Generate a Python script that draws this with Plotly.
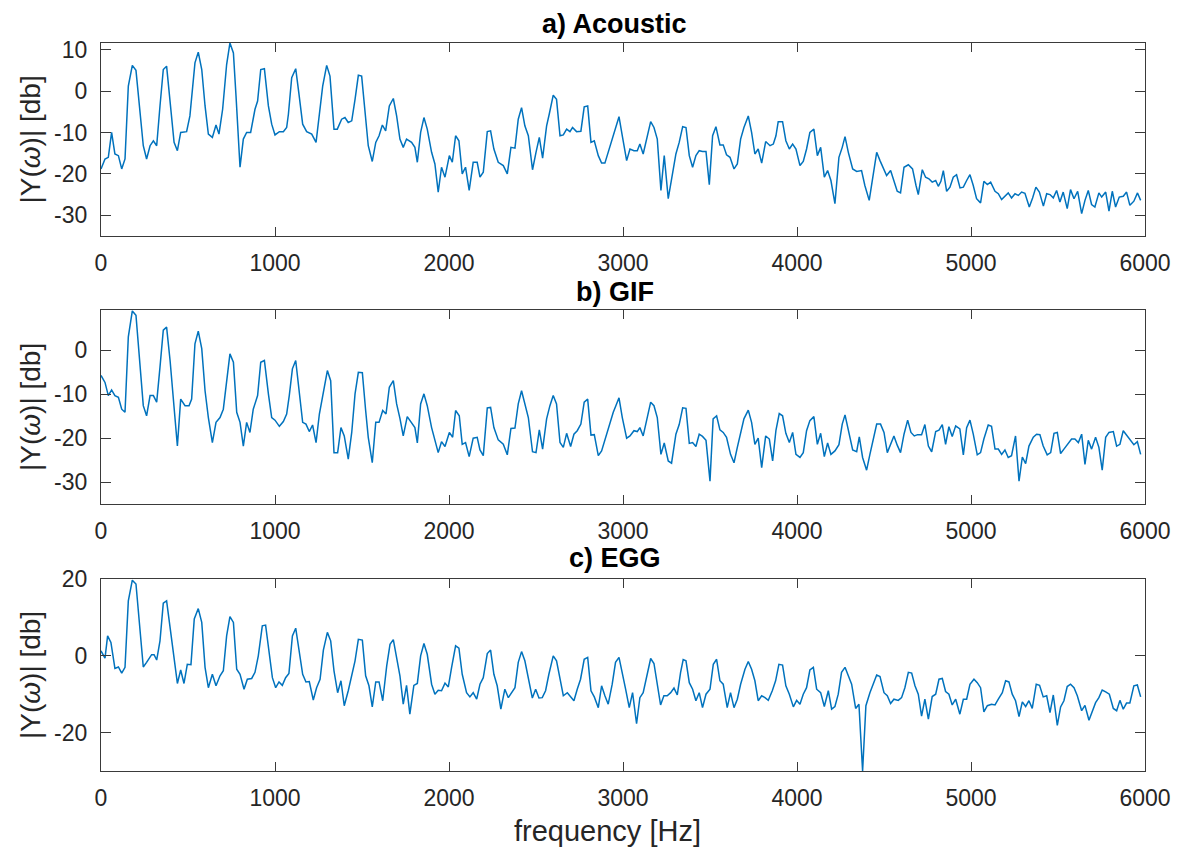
import plotly.graph_objects as go

# ---------------- data (frequency in Hz, magnitude in dB) ----------------
FREQ_A = [
    0, 23, 42, 61, 80, 100, 119, 138, 157, 180,
    201, 224, 243, 262, 282, 301, 320, 339, 358, 377,
    397, 420, 439, 458, 492, 511, 540, 559, 579, 598,
    617, 640, 661, 678, 699, 722, 741, 761, 776, 799,
    818, 837, 860, 885, 900, 918, 939, 962, 981, 1000,
    1025, 1048, 1067, 1077, 1096, 1119, 1138, 1159, 1182, 1211,
    1236, 1255, 1274, 1297, 1316, 1339, 1358, 1383, 1402, 1421,
    1441, 1460, 1479, 1498, 1517, 1536, 1559, 1579, 1598, 1617,
    1636, 1657, 1680, 1699, 1718, 1737, 1756, 1785, 1804, 1818,
    1837, 1856, 1875, 1900, 1919, 1938, 1957, 1977, 2002, 2019,
    2038, 2057, 2076, 2095, 2116, 2139, 2162, 2178, 2197, 2220,
    2239, 2258, 2283, 2312, 2335, 2356, 2379, 2398, 2417, 2436,
    2456, 2480, 2500, 2519, 2538, 2561, 2576, 2599, 2618, 2638,
    2657, 2676, 2695, 2710, 2733, 2758, 2777, 2797, 2816, 2835,
    2858, 2877, 2896, 2915, 2938, 2959, 2977, 2996, 3021, 3040,
    3063, 3082, 3097, 3116, 3136, 3159, 3178, 3197, 3218, 3237,
    3260, 3279, 3304, 3323, 3343, 3362, 3381, 3400, 3419, 3438,
    3457, 3477, 3496, 3515, 3534, 3557, 3576, 3595, 3615, 3638,
    3657, 3676, 3695, 3720, 3739, 3758, 3777, 3797, 3820, 3845,
    3864, 3879, 3892, 3917, 3936, 3956, 3975, 3994, 4017, 4036,
    4055, 4074, 4097, 4117, 4136, 4157, 4176, 4195, 4218, 4241,
    4260, 4276, 4295, 4320, 4343, 4371, 4390, 4415, 4435, 4458,
    4477, 4496, 4515, 4538, 4557, 4576, 4595, 4615, 4640, 4664,
    4684, 4697, 4720, 4739, 4758, 4777, 4797, 4812, 4827, 4841,
    4860, 4879, 4898, 4917, 4937, 4956, 4975, 4994, 5013, 5032,
    5055, 5074, 5094, 5113, 5138, 5157, 5176, 5195, 5214, 5233,
    5253, 5272, 5291, 5310, 5335, 5354, 5373, 5393, 5416, 5435,
    5454, 5473, 5492, 5511, 5530, 5553, 5572, 5592, 5613, 5636,
    5655, 5674, 5693, 5712, 5735, 5751, 5774, 5793, 5812, 5831,
    5852, 5875, 5894, 5913, 5936, 5957, 5975,
]
DB_ACOUSTIC = [
    -18.8, -16.4, -16, -10, -15.2, -15.6, -18.8, -16.4, 1.2, 6.2,
    5, -6, -13.2, -16.4, -13.2, -12, -13.2, -3.6, 5.2, 6,
    -2, -12.4, -14.4, -10, -9.8, -6, 6.8, 9.4, 5.2, -3.6,
    -10.4, -11.2, -8.2, -10.4, -4.4, 6.4, 11.6, 9.2, -1.2, -18.4,
    -11.6, -10, -10, -4.4, -2.4, 5.2, 5.4, -3.6, -8, -10.6,
    -9.8, -9.8, -8.8, -5.6, 3.2, 5.4, -0.8, -8, -9.8, -10.4,
    -12.4, -6, 1.2, 6.2, 3.6, -9.2, -9.2, -6.8, -6.4, -7.6,
    -7.2, -2, 3.8, 3.6, -5.2, -13.2, -17, -12.4, -10.8, -8.2,
    -9.6, -3.6, -1.8, -6, -11.6, -13.6, -11.6, -12.4, -13.6, -17.2,
    -10, -6.4, -9.2, -14.8, -17.6, -24.4, -18.4, -20.8, -15.6, -17.2,
    -10.8, -12, -20, -18.4, -24, -17.2, -17.2, -20.8, -19.6, -9.8,
    -9.6, -14, -17.2, -18, -20, -13.6, -13.8, -6.8, -4, -8.4,
    -10.8, -19, -14.8, -11.2, -16.2, -8.4, -5.6, -1, -2, -10.8,
    -10.6, -9.2, -9.8, -8.8, -9.8, -9.7, -3.8, -3.6, -12.4, -12,
    -15.6, -17.4, -17.4, -14.8, -11.6, -8.4, -6.2, -10.8, -16.8, -14,
    -14.4, -14.4, -12.8, -15.2, -11.6, -7.4, -8.8, -11.6, -24, -15.6,
    -26, -21.2, -15.2, -12.4, -8.6, -8.8, -15.6, -18.4, -15.6, -14.4,
    -14.6, -14.6, -22.6, -10.8, -8.6, -13, -13, -15.4, -16, -18.8,
    -17.6, -11.6, -8.8, -6, -10, -15.2, -14, -17.4, -12.2, -13.2,
    -12.8, -10.8, -7.4, -7.4, -12, -14, -12.8, -14, -18, -17,
    -14, -10, -9.2, -15.6, -13.6, -20.8, -19.2, -21.6, -27.2, -16,
    -13.6, -11, -14.8, -18.8, -19.4, -19.2, -22.8, -26.4, -20.4, -14.8,
    -16.8, -18.4, -20.4, -19.2, -22, -24.2, -24.6, -18.4, -17.8, -18.8,
    -22.8, -25, -19, -20.8, -21.2, -22, -21.6, -23, -21.8, -19.2,
    -24.2, -23.2, -20.8, -20.2, -23.4, -23.2, -21.6, -20.2, -22.8, -26,
    -27, -21.8, -22.6, -22, -24.2, -24.8, -26.2, -25.4, -24.6, -25.8,
    -24.8, -25.2, -24.4, -24.7, -28, -25.8, -23.2, -24.4, -27.8, -24.8,
    -25, -25.8, -24, -26.8, -24.4, -28.4, -23.8, -26, -24.2, -29.6,
    -26.4, -24, -27.4, -28, -24.6, -25.6, -24.4, -29, -24.2, -28,
    -25.6, -25.4, -24.4, -27.6, -26.6, -24.6, -26.4,
]

FREQ_B = [
    0, 23, 42, 61, 80, 100, 119, 138, 157, 180,
    201, 224, 243, 262, 282, 301, 320, 339, 358, 377,
    397, 420, 439, 458, 483, 506, 521, 540, 559, 579,
    598, 617, 640, 661, 684, 703, 722, 741, 761, 780,
    799, 818, 837, 856, 875, 900, 918, 939, 962, 981,
    1000, 1025, 1048, 1067, 1082, 1100, 1119, 1138, 1159, 1178,
    1197, 1216, 1236, 1255, 1278, 1301, 1320, 1339, 1360, 1379,
    1398, 1421, 1441, 1460, 1479, 1502, 1521, 1536, 1559, 1579,
    1598, 1619, 1638, 1657, 1680, 1699, 1718, 1737, 1760, 1785,
    1804, 1818, 1837, 1856, 1875, 1900, 1919, 1938, 1957, 1977,
    2002, 2021, 2038, 2059, 2076, 2095, 2116, 2139, 2162, 2178,
    2197, 2220, 2239, 2258, 2283, 2312, 2335, 2356, 2379, 2398,
    2417, 2436, 2456, 2480, 2500, 2519, 2538, 2561, 2580, 2599,
    2618, 2638, 2657, 2676, 2699, 2718, 2737, 2758, 2777, 2797,
    2816, 2835, 2858, 2877, 2900, 2921, 2944, 2959, 2977, 2996,
    3021, 3040, 3063, 3082, 3097, 3116, 3136, 3159, 3178, 3197,
    3218, 3237, 3260, 3279, 3304, 3323, 3343, 3362, 3381, 3400,
    3419, 3438, 3457, 3477, 3500, 3518, 3538, 3557, 3576, 3595,
    3618, 3638, 3657, 3676, 3695, 3720, 3739, 3758, 3777, 3797,
    3820, 3841, 3860, 3879, 3898, 3917, 3936, 3956, 3975, 3994,
    4017, 4036, 4055, 4074, 4097, 4117, 4136, 4157, 4176, 4195,
    4218, 4241, 4260, 4276, 4295, 4320, 4343, 4358, 4377, 4400,
    4419, 4438, 4458, 4480, 4500, 4519, 4538, 4557, 4576, 4595,
    4615, 4636, 4655, 4674, 4693, 4716, 4735, 4755, 4774, 4797,
    4816, 4835, 4854, 4873, 4892, 4912, 4936, 4956, 4975, 4994,
    5013, 5036, 5055, 5074, 5099, 5118, 5138, 5157, 5176, 5195,
    5214, 5233, 5256, 5276, 5295, 5314, 5333, 5358, 5377, 5396,
    5415, 5438, 5458, 5477, 5496, 5515, 5534, 5553, 5578, 5597,
    5617, 5636, 5655, 5674, 5693, 5716, 5735, 5754, 5774, 5793,
    5818, 5837, 5856, 5875, 5898, 5917, 5936, 5956, 5975,
]
DB_GIF = [
    -5.7, -7.3, -10.3, -9, -10.3, -10.7, -13.4, -14.1, 3.1, 9,
    8, -2.3, -12.6, -14.9, -10.3, -10.3, -11.8, -3.8, 4.6, 5.3,
    -2.3, -13, -21.8, -11.1, -12.6, -12.6, -11.1, 1.5, 4.4, 0.4,
    -9.2, -15.3, -21, -16.4, -15.3, -13.4, -6.9, -0.8, -2.7, -14.1,
    -16.4, -21.8, -16.4, -18.7, -13.4, -10.3, -2.7, -2.3, -9.9, -15.3,
    -15.9, -17.3, -16.2, -14.5, -10.3, -4.2, -2.3, -8.4, -16.4, -16.8,
    -18.5, -17, -21, -14.5, -9.2, -4.6, -6.9, -23.3, -23.3, -17.6,
    -19.5, -24.8, -18.7, -9.9, -5, -5.1, -13.7, -19.8, -25.6, -16.4,
    -16.4, -13.7, -14.5, -8.4, -6.9, -12.2, -15.5, -19.5, -15.1, -16.4,
    -17.6, -21.1, -12.2, -9.9, -12.6, -17.6, -20.6, -23.3, -20.8, -21.9,
    -18.7, -19.8, -13.7, -14.9, -21.4, -21, -24.2, -20, -19.8, -22.7,
    -24, -13.1, -13, -17.6, -20.4, -21.4, -23.8, -17.8, -17.7, -12.2,
    -9.2, -12.4, -15.3, -23.1, -23.3, -18.1, -22.5, -15.6, -12.6, -10.3,
    -12.2, -21, -22.1, -18.9, -21.9, -19.1, -18.3, -16.8, -11.8, -11.1,
    -19.3, -19.2, -24, -22.9, -19.8, -17.2, -14.1, -12.6, -10.8, -15.3,
    -20, -19.5, -18.3, -18.5, -17.6, -19.5, -16, -11.8, -12.6, -15.3,
    -23.7, -21.1, -25.2, -25.7, -19.1, -16.9, -13.1, -13.2, -21.2, -21,
    -21.9, -19.1, -19.6, -20.5, -29.8, -15.6, -14.9, -18.1, -18.7, -19.8,
    -23.7, -25.6, -22.1, -18.7, -15.6, -13.6, -16.4, -21.4, -20, -26.7,
    -19.5, -20.2, -25.2, -18.2, -14.4, -14.9, -18.9, -21, -18.7, -23.7,
    -24.4, -23.3, -18.3, -16, -15.1, -21.4, -18.9, -24.2, -21.1, -23.7,
    -22.9, -21.5, -16.8, -14.7, -17.9, -22.7, -23.1, -19.7, -24.4, -27.3,
    -23.7, -20.2, -16.8, -16.8, -18.7, -23.3, -21.4, -19.5, -21.6, -23.3,
    -19.1, -15.9, -18.7, -19.5, -19.2, -19.2, -16.9, -21.8, -23.1, -18.5,
    -18.2, -16.9, -21.4, -17.4, -19.6, -17.2, -17.9, -23.8, -17.6, -15.9,
    -19.1, -23.8, -23.3, -20.2, -17, -17.3, -22.5, -22.5, -23.7, -22.7,
    -24.4, -24, -19.5, -29.8, -24.3, -25.8, -21.8, -19.8, -19.1, -19.2,
    -21.8, -23.8, -23.3, -18.9, -18.7, -23.5, -22.5, -21.6, -20.2, -20.2,
    -21, -19.1, -26, -20.5, -22.5, -19.8, -22.1, -27.3, -19.8, -18.7,
    -18.5, -21.8, -21.4, -18.3, -19.5, -20.5, -21.5, -20.8, -23.7,
]

FREQ_C = [
    0, 13, 23, 38, 57, 80, 100, 119, 138, 157,
    180, 201, 224, 243, 262, 291, 305, 320, 339, 358,
    377, 397, 420, 439, 458, 477, 496, 517, 536, 559,
    579, 598, 617, 640, 661, 684, 703, 722, 741, 761,
    780, 799, 822, 841, 866, 885, 904, 927, 946, 966,
    985, 1004, 1023, 1042, 1061, 1080, 1100, 1119, 1138, 1159,
    1178, 1197, 1220, 1239, 1259, 1278, 1301, 1320, 1339, 1360,
    1379, 1398, 1421, 1441, 1460, 1479, 1502, 1521, 1540, 1559,
    1579, 1598, 1619, 1642, 1661, 1680, 1699, 1718, 1737, 1756,
    1775, 1798, 1818, 1837, 1856, 1875, 1900, 1919, 1938, 1957,
    1977, 1996, 2015, 2038, 2057, 2076, 2101, 2120, 2139, 2159,
    2178, 2197, 2220, 2239, 2258, 2277, 2298, 2321, 2341, 2360,
    2379, 2398, 2417, 2436, 2459, 2479, 2498, 2517, 2536, 2555,
    2574, 2599, 2618, 2638, 2657, 2680, 2699, 2718, 2737, 2756,
    2777, 2797, 2816, 2835, 2858, 2877, 2896, 2915, 2938, 2957,
    2977, 2996, 3015, 3036, 3055, 3078, 3097, 3116, 3139, 3159,
    3178, 3197, 3216, 3235, 3254, 3274, 3293, 3312, 3331, 3346,
    3362, 3381, 3400, 3419, 3438, 3457, 3477, 3500, 3519, 3538,
    3557, 3576, 3599, 3618, 3638, 3657, 3676, 3701, 3720, 3739,
    3758, 3777, 3797, 3816, 3835, 3858, 3877, 3896, 3917, 3936,
    3956, 3979, 3998, 4017, 4036, 4055, 4074, 4094, 4113, 4136,
    4157, 4180, 4199, 4218, 4237, 4256, 4276, 4295, 4314, 4337,
    4356, 4377, 4396, 4419, 4438, 4458, 4477, 4500, 4519, 4538,
    4557, 4582, 4601, 4620, 4640, 4659, 4678, 4697, 4716, 4735,
    4755, 4777, 4797, 4816, 4835, 4854, 4873, 4892, 4912, 4936,
    4956, 4975, 4994, 5017, 5036, 5055, 5074, 5094, 5118, 5138,
    5157, 5180, 5199, 5218, 5237, 5256, 5276, 5295, 5314, 5333,
    5352, 5375, 5394, 5415, 5435, 5454, 5473, 5496, 5515, 5534,
    5553, 5572, 5592, 5611, 5636, 5655, 5678, 5697, 5716, 5735,
    5754, 5774, 5795, 5818, 5837, 5856, 5875, 5894, 5913, 5936,
    5956, 5975,
]
DB_EGG = [
    1.3, 0.4, -0.6, 5.2, 3.5, -3.3, -2.9, -4.5, -3, 14.3,
    19.7, 18.7, 7.4, -2.9, -1.7, 0.3, 0.3, -1.1, 3.9, 13.7,
    14.3, 7.2, -0.4, -7.2, -3.7, -7.2, -2.2, -2.3, 9.6, 12.3,
    8.7, -3, -8.3, -4.8, -7.8, -5.2, -3.9, 5.2, 10.2, 8.7,
    -3.5, -4.8, -8.7, -6.1, -5.9, -4.3, 0, 7.8, 8, 0.4,
    -5.7, -8.3, -6.8, -7.7, -5.7, -4.6, 5.2, 7.2, 1.7, -4.8,
    -6.8, -6.7, -11.5, -8.3, -6.1, 1.5, 6.1, 3.9, -3.9, -9.6,
    -6.5, -13, -9.1, -5.5, -1.3, 4.3, 4.1, -5.2, -7.8, -13.3,
    -6.8, -6.8, -11.7, -2.6, 3, 4.2, -0.4, -5.2, -12.6, -7.7,
    -15.2, -7.7, -7.2, 0, 3.2, 0.4, -7.4, -10, -9, -9.1,
    -7.1, -8.1, -3, 2.6, 2, -4.8, -9.6, -10.7, -9.6, -11.3,
    -7.4, -5.7, 0.6, 1.5, -4.8, -7.8, -13.9, -8.7, -10.9, -9.6,
    -8.3, -1.7, 1.1, -1.3, -6.5, -11, -8.7, -11, -10.9, -9.1,
    -4.8, 0, -1.3, -6.5, -10.4, -9.6, -10.7, -11.7, -8.7, -6.1,
    -0.9, -0.4, -9.1, -10.7, -13.5, -7.8, -10.4, -12.6, -7.4, -1.7,
    -0.4, -5, -8.7, -13.5, -9.6, -17.7, -10.9, -9.6, -4.8, -0.7,
    -2, -7.8, -12.8, -10.4, -10.4, -9.6, -8.4, -10.2, -4.3, -1,
    -1.3, -7, -8.7, -11.7, -9.6, -13.5, -10, -8.7, -2.2, -0.9,
    -6.5, -7.4, -13.5, -9.6, -13.5, -11.3, -7.4, -3.5, -1.5, -3.5,
    -6.5, -11.7, -10.4, -10.9, -11.6, -9.1, -6.5, -2.2, -2.4, -7.8,
    -10, -13.3, -11.6, -12.6, -10, -8.3, -3.7, -3, -8.7, -9.6,
    -13.2, -9.1, -13.9, -13.2, -10, -4.3, -3, -5.2, -7.4, -13.7,
    -12.6, -30, -13, -9.6, -7.4, -5, -5.4, -9.6, -10.4, -12.4,
    -11.3, -11.6, -10.9, -8.3, -4.3, -4.5, -7.8, -10, -15.7, -11.3,
    -16.5, -10.6, -10, -6.1, -5.9, -9.3, -10, -12.8, -11.3, -15.2,
    -11.3, -11.3, -7.4, -6.1, -7, -8.3, -14.6, -13, -12.6, -12.8,
    -11.3, -9.6, -6.5, -6.8, -10, -11.7, -15.8, -12, -13.2, -11.7,
    -13.7, -7.4, -7.7, -10.7, -10.4, -14.8, -10.2, -18.1, -13.3, -11.7,
    -8, -7.4, -8.3, -10.4, -14.3, -12.9, -16.8, -14.2, -12.2, -10.9,
    -8.9, -9.4, -10, -13.7, -14.3, -11.6, -13.9, -12.3, -12.3, -7.8,
    -7.6, -10.7,
]

PANEL_TITLES = ["a) Acoustic", "b) GIF", "c) EGG"]
Y_RANGES = [[-35, 11.6], [-35, 9.2], [-30, 20]]
Y_TICKS = [[-30, -20, -10, 0, 10], [-30, -20, -10, 0], [-20, 0, 20]]
X_TICKS = [0, 1000, 2000, 3000, 4000, 5000, 6000]
X_LABEL = "frequency [Hz]"
Y_LABEL = "|Y(<i>ω</i>)| [db]"

# ---------------- figure ----------------
LINE_COLOR = "#0072BD"
AXIS_COLOR = "#3a3a3a"
TEXT_COLOR = "#262626"
FONT = "Liberation Sans, Arial, Helvetica, sans-serif"

series = [(FREQ_A, DB_ACOUSTIC), (FREQ_B, DB_GIF), (FREQ_C, DB_EGG)]
domains = [[0.7349, 1.0], [0.3668, 0.6332], [0.0, 0.2637]]

fig = go.Figure()
# page body has an 8px margin, so the figure is 8px smaller than the window
layout = dict(
    width=1175, height=846,
    margin=dict(l=93, r=38, t=35, b=83),
    paper_bgcolor="white", plot_bgcolor="white",
    showlegend=False,
    font=dict(family=FONT, color=TEXT_COLOR, size=23),
)

annotations = []
title_y = [1.0265, 0.6584, 0.2926]

for i, ((fx, fy), dom) in enumerate(zip(series, domains)):
    n = "" if i == 0 else str(i + 1)
    fig.add_trace(go.Scatter(
        x=fx, y=fy, mode="lines",
        line=dict(color=LINE_COLOR, width=1.5),
        xaxis="x" + n, yaxis="y" + n,
        hoverinfo="x+y",
    ))
    axis_common = dict(
        showline=True, linecolor=AXIS_COLOR, linewidth=1.2,
        mirror="ticks", ticks="inside", tickcolor=AXIS_COLOR, tickwidth=1.2,
        showgrid=False, zeroline=False,
        tickfont=dict(family=FONT, size=23, color=TEXT_COLOR),
    )
    layout["xaxis" + n] = dict(
        axis_common, domain=[0, 1], anchor="y" + n, range=[0, 6000],
        tickmode="array", tickvals=X_TICKS, ticktext=[str(v) for v in X_TICKS],
        ticklen=9, ticklabelstandoff=6,
    )
    layout["yaxis" + n] = dict(
        axis_common, domain=dom, anchor="x" + n, range=Y_RANGES[i],
        tickmode="array", tickvals=Y_TICKS[i],
        ticktext=[str(v) for v in Y_TICKS[i]],
        ticklen=10, ticklabelstandoff=8,
    )
    annotations.append(dict(
        text="<b>" + PANEL_TITLES[i] + "</b>", xref="paper", yref="paper",
        x=0.4923, y=title_y[i], xanchor="center", yanchor="middle",
        showarrow=False, font=dict(family=FONT, size=27, color="black"),
    ))
    annotations.append(dict(
        text=Y_LABEL, xref="paper", yref="paper", textangle=-90,
        x=-0.068, y=(dom[0] + dom[1]) / 2, xanchor="center", yanchor="middle",
        showarrow=False, font=dict(family=FONT, size=28, color=TEXT_COLOR),
    ))

annotations.append(dict(
    text=X_LABEL, xref="paper", yref="paper",
    x=0.4847, y=-0.083, xanchor="center", yanchor="middle",
    showarrow=False, font=dict(family=FONT, size=29, color=TEXT_COLOR),
))
layout["annotations"] = annotations
fig.update_layout(**layout)

fig.write_html("out.html")
